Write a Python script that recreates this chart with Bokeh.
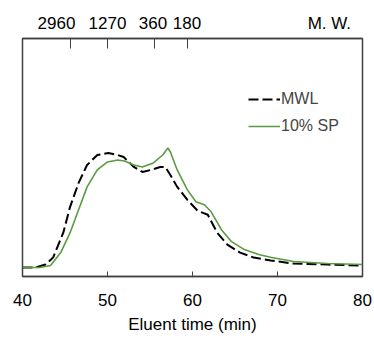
from bokeh.plotting import figure
from bokeh.models import LinearAxis, FixedTicker, Range1d, Legend, LegendItem
from bokeh.embed import file_html
from bokeh.resources import INLINE

# Eluent time (min) and detector response (relative units, baseline = 0)
mwl_t = [40.0, 41.5, 42.7, 43.6, 44.8, 45.6, 46.6, 47.6, 48.8, 50.1, 51.2, 51.9, 53.1,
         54.1, 55.1, 56.2, 56.8, 57.4, 58.2, 59.4, 60.6, 61.8, 62.9, 64.1, 65.6, 67.2,
         69.2, 71.9, 75.9, 80.0]
mwl_y = [0, 0, 3, 10, 35, 61, 85, 103, 113, 115, 113, 111, 101,
         96, 98, 101, 101, 93, 81, 68, 57, 53, 35, 23, 15, 10,
         7, 4, 3, 2]
sp_t = [40.0, 42.0, 43.3, 44.5, 45.6, 46.6, 47.6, 48.8, 50.0, 51.2, 52.0, 53.1, 54.1,
        55.4, 56.5, 57.1, 57.4, 58.2, 59.4, 60.4, 61.4, 62.2, 63.4, 64.6, 66.1, 67.8,
        69.3, 71.9, 75.9, 80.0]
sp_y = [0, 0, 2, 15, 35, 58, 81, 98, 106, 108, 107, 103, 101,
        105, 113, 120, 116, 98, 78, 66, 63, 56, 38, 26, 18, 13,
        10, 6, 4, 3]

x_ticks = [40, 50, 60, 70, 80]
# molecular-weight marks on the top axis (tick positions in eluent time)
mw_ticks = [45.6, 50.0, 55.5, 59.4]
# positions of the molecular-weight labels (2960 is set left of its tick), plus the unit
mw_label_pos = [44.0, 50.0, 55.35, 59.35, 76.1]
mw_labels = ["2960", "1270", "360", "180", "M. W."]

FONT = "Liberation Sans"
AX = "#404040"

p = figure(width=374, height=339, output_backend="svg", toolbar_location=None,
           x_range=Range1d(40, 80), y_range=Range1d(-9, 230),
           y_axis_location=None, x_axis_location=None,
           min_border_left=22, min_border_right=12, min_border_top=38, min_border_bottom=63)
p.grid.visible = False
p.outline_line_color = AX
p.outline_line_width = 1.5
p.background_fill_color = "white"
p.border_fill_color = "white"

r1 = p.line(mwl_t, mwl_y, line_color="black", line_width=2, line_dash="10 4")
r2 = p.line(sp_t, sp_y, line_color="#5a9a40", line_width=1.6)

xb = LinearAxis(ticker=FixedTicker(ticks=x_ticks), axis_label="Eluent time (min)")
xb.major_tick_in = 5
xb.major_tick_out = 0
xb.minor_tick_line_color = None
xb.axis_line_color = AX
xb.axis_line_width = 1.5
xb.major_tick_line_color = AX
xb.major_label_text_font = FONT
xb.major_label_text_font_size = "17px"
xb.major_label_text_color = "black"
xb.major_label_standoff = 17
xb.axis_label_text_font = FONT
xb.axis_label_text_font_size = "17px"
xb.axis_label_text_font_style = "normal"
xb.axis_label_text_color = "black"
xb.axis_label_standoff = 6
p.add_layout(xb, "below")

# top axis: tick marks only
xt = LinearAxis(ticker=FixedTicker(ticks=mw_ticks),
                major_label_overrides={k: "" for k in mw_ticks})
xt.major_tick_in = 10
xt.major_tick_out = 0
xt.minor_tick_line_color = None
xt.axis_line_color = AX
xt.axis_line_width = 1.5
xt.major_tick_line_color = AX
xt.major_label_text_font_size = "0px"
xt.major_label_standoff = 0
p.add_layout(xt, "above")

# top axis labels
xl = LinearAxis(ticker=FixedTicker(ticks=mw_label_pos),
                major_label_overrides={k: v for k, v in zip(mw_label_pos, mw_labels)})
xl.major_tick_line_color = None
xl.minor_tick_line_color = None
xl.axis_line_color = None
xl.major_tick_in = 0
xl.major_tick_out = 0
xl.major_label_text_font = FONT
xl.major_label_text_font_size = "17px"
xl.major_label_text_color = "black"
xl.major_label_standoff = 6
p.add_layout(xl, "above")

legend = Legend(items=[LegendItem(label="MWL", renderers=[r1]),
                       LegendItem(label="10% SP", renderers=[r2])],
                location=(226, 140), orientation="vertical",
                border_line_color=None, background_fill_alpha=0,
                padding=0, margin=0, spacing=7,
                glyph_width=32, glyph_height=20, label_height=20,
                label_standoff=1,
                label_text_font=FONT, label_text_font_size="16px")
p.add_layout(legend)

open("out.html", "w").write(file_html(p, INLINE))
